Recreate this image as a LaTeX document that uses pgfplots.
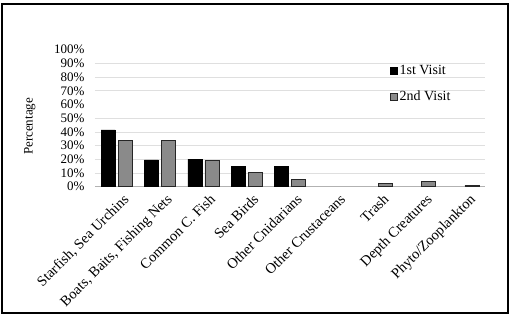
\documentclass[border=0pt]{standalone}
\usepackage{pgfplots}
\pgfplotsset{compat=1.18}
\usepackage{fontspec}
\setmainfont{Liberation Serif}
\definecolor{gtwo}{RGB}{138,138,138}
\begin{document}
\begin{tikzpicture}
\path[use as bounding box] (-95bp,-130.3bp) rectangle (417bp,186.7bp);
\begin{axis}[
  at={(0,0)}, anchor=south west,
  scale only axis, width=390bp, height=137bp,
  ybar, bar width=14bp,
  xmin=-0.5, xmax=8.5, ymin=0, ymax=100,
  xtick={0,...,8},
  xticklabels={{Starfish, Sea Urchins},{Boats, Baits, Fishing Nets},{Common C. Fish},{Sea Birds},{Other Cnidarians},{Other Crustaceans},{Trash},{Depth Creatures},{Phyto/Zooplankton}},
  ytick={0,10,...,100},
  yticklabels={0\%,10\%,20\%,30\%,40\%,50\%,60\%,70\%,80\%,90\%,100\%},
  extra y ticks={10,20,30,40,50,70,80,90},
  extra y tick labels={},
  extra y tick style={grid=major, major grid style={gray!25, line width=0.6bp}},
  axis x line*=bottom, axis y line*=left,
  y axis line style={draw=none},
  x axis line style={gray!60, line width=0.8bp, -},
  major tick length=0,
  yticklabel style={xshift=-7bp, font=\fontsize{13bp}{15bp}\selectfont},
  xticklabel style={rotate=45, anchor=north east, yshift=-5bp, xshift=3bp, font=\fontsize{14.5bp}{16bp}\selectfont},
  ylabel={Percentage},
  ylabel style={at={(axis description cs:-0.167,0.44)}, anchor=center, font=\fontsize{13bp}{15bp}\selectfont},
  legend style={at={(0.756,0.753)}, anchor=west, draw=none, fill=none, inner sep=0pt,
    font=\fontsize{14bp}{16bp}\selectfont, row sep=11bp},
  legend cell align=left,
  legend image code/.code={\draw[#1, line width=0.6bp] (0bp,-3.5bp) rectangle (7bp,3.5bp);},
]
\addplot[fill=black, draw=black, line width=0.6bp, bar shift=-8.5bp] coordinates {
  (0,41.4) (1,19.5) (2,20.2) (3,14.9) (4,14.9)};
\addplot[fill=gtwo, draw=black!85, line width=0.6bp, bar shift=8.5bp] coordinates {
  (0,34) (1,34) (2,19) (3,10.5) (4,5.4) (6,2.5) (7,4) (8,1.2)};
\legend{1st Visit, 2nd Visit}
\end{axis}
\draw[line width=1.4bp] (-93bp,-126.3bp) rectangle (413bp,182.7bp);
\end{tikzpicture}
\end{document}
